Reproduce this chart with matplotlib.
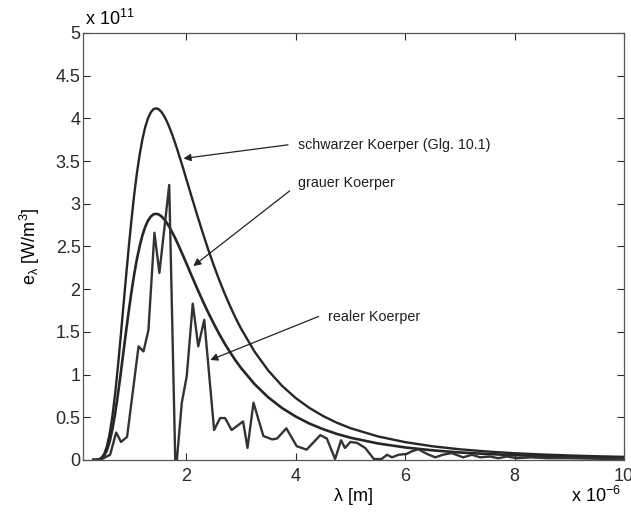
import matplotlib.pyplot as plt
from matplotlib.ticker import FuncFormatter, MultipleLocator

plt.rcParams['font.family'] = ['Liberation Sans', 'DejaVu Sans']
plt.rcParams['mathtext.fontset'] = 'custom'
plt.rcParams['mathtext.rm'] = 'Liberation Sans'
plt.rcParams['mathtext.it'] = 'Liberation Sans'

# wavelength in 1e-6 m, emissive power in 1e11 W/m^3
lam_smooth = [0.3, 0.35, 0.4, 0.45, 0.5, 0.55, 0.6, 0.65, 0.7, 0.75, 0.8, 0.85, 0.9, 0.95, 1.0,
              1.05, 1.1, 1.15, 1.2, 1.25, 1.3, 1.35, 1.4, 1.45, 1.5, 1.55, 1.6, 1.65, 1.7, 1.75,
              1.8, 1.85, 1.9, 1.95, 2.0,
              2.1, 2.2, 2.3, 2.4, 2.5, 2.6, 2.7, 2.8, 2.9, 3.0,
              3.25, 3.5, 3.75, 4.0, 4.25, 4.5, 4.75, 5.0,
              5.5, 6.0, 6.5, 7.0, 7.5, 8.0, 8.5, 9.0, 9.5, 10.0]
e_black = [0.0, 0.001, 0.006, 0.023, 0.068, 0.155, 0.30, 0.503, 0.766, 1.077, 1.42, 1.781, 2.139, 2.487, 2.81,
           3.105, 3.361, 3.575, 3.755, 3.895, 3.998, 4.067, 4.107, 4.117, 4.106, 4.073, 4.023, 3.960, 3.884, 3.800,
           3.707, 3.609, 3.506, 3.403, 3.295,
           3.08, 2.869, 2.664, 2.468, 2.285, 2.112, 1.952, 1.804, 1.666, 1.54,
           1.267, 1.046, 0.868, 0.725, 0.609, 0.514, 0.436, 0.372,
           0.2755, 0.208, 0.1593, 0.124, 0.098, 0.078, 0.0634, 0.052, 0.0427, 0.0355]
e_grey = [0.0, 0.001, 0.004, 0.016, 0.048, 0.109, 0.21, 0.352, 0.536, 0.754, 0.994, 1.247, 1.497, 1.741, 1.967,
          2.174, 2.353, 2.503, 2.629, 2.727, 2.799, 2.847, 2.875, 2.882, 2.874, 2.851, 2.816, 2.772, 2.719, 2.66,
          2.595, 2.526, 2.454, 2.382, 2.307,
          2.156, 2.008, 1.865, 1.728, 1.60, 1.478, 1.366, 1.263, 1.166, 1.078,
          0.887, 0.732, 0.608, 0.508, 0.426, 0.36, 0.305, 0.26,
          0.193, 0.146, 0.112, 0.087, 0.069, 0.055, 0.044, 0.036, 0.030, 0.025]

lam_real = [0.3, 0.43, 0.61, 0.72, 0.81, 0.92, 1.13, 1.22, 1.31, 1.42, 1.51, 1.69,
            1.80, 1.83, 1.92, 2.01, 2.12, 2.22, 2.33, 2.51, 2.62, 2.71, 2.83, 3.04,
            3.12, 3.23, 3.41, 3.57, 3.66, 3.83, 4.02, 4.20, 4.45, 4.57, 4.72, 4.83,
            4.90, 5.00, 5.12, 5.27, 5.43, 5.57, 5.67, 5.76, 5.88, 6.03, 6.12, 6.24,
            6.40, 6.55, 6.69, 6.85, 7.06, 7.22, 7.37, 7.55, 7.70, 7.86, 8.04, 8.3,
            8.6, 9.0, 9.4, 9.8, 10.0]
e_real = [0.0, 0.0, 0.06, 0.32, 0.21, 0.27, 1.33, 1.27, 1.52, 2.66, 2.19, 3.22,
          0.0, 0.0, 0.67, 0.98, 1.83, 1.33, 1.64, 0.35, 0.49, 0.49, 0.35, 0.45,
          0.14, 0.67, 0.28, 0.24, 0.25, 0.37, 0.16, 0.12, 0.29, 0.25, 0.01, 0.23,
          0.14, 0.21, 0.20, 0.14, 0.01, 0.01, 0.06, 0.03, 0.06, 0.07, 0.10, 0.125,
          0.07, 0.03, 0.06, 0.08, 0.03, 0.06, 0.03, 0.04, 0.02, 0.04, 0.02, 0.03,
          0.02, 0.02, 0.015, 0.01, 0.01]

labels = ['schwarzer Koerper (Glg. 10.1)', 'grauer Koerper', 'realer Koerper']
text_pos = [(4.05, 3.69), (4.05, 3.24), (4.6, 1.67)]
arrow_tail = [(3.86, 3.69), (3.89, 3.15), (4.42, 1.68)]
arrow_head = [(1.95, 3.53), (2.13, 2.27), (2.44, 1.17)]

line_col = '#262626'

fig = plt.figure(figsize=(6.31, 5.15), dpi=100)
ax = fig.add_axes([0.132, 0.107, 0.857, 0.829])

ax.plot(lam_smooth, e_black, color=line_col, lw=1.7)
ax.plot(lam_smooth, e_grey, color=line_col, lw=1.9)
ax.plot(lam_real, e_real, color='#333333', lw=1.7)

for lab, tp, tail, head in zip(labels, text_pos, arrow_tail, arrow_head):
    ax.text(tp[0], tp[1], lab, fontsize=10.3, va='center', ha='left', color='#1e1e1e')
    ax.annotate('', xy=head, xytext=tail,
                arrowprops=dict(arrowstyle='-|>', color='#222222', lw=0.9,
                                mutation_scale=11, shrinkA=0, shrinkB=0))

ax.set_xlim(0.12, 10)
ax.set_ylim(0, 5)
ax.xaxis.set_major_locator(MultipleLocator(2))
ax.yaxis.set_major_locator(MultipleLocator(0.5))
fmt = FuncFormatter(lambda v, p: '%g' % v)
ax.xaxis.set_major_formatter(fmt)
ax.yaxis.set_major_formatter(fmt)
ax.tick_params(direction='in', top=True, right=True, length=5, width=0.8,
               labelsize=13, colors='#2a2a2a')
ax.tick_params(axis='y', pad=2)
ax.tick_params(axis='x', pad=6)
for s in ax.spines.values():
    s.set_color('#555555')
    s.set_linewidth(0.9)

ax.set_xlabel('λ [m]', fontsize=13, labelpad=2)
ax.set_ylabel(r'e$_\lambda$ [W/m$^3$]', fontsize=13, labelpad=10)

fig.text(0.134, 0.944, r'x 10$^{11}$', fontsize=13, ha='left', va='bottom')
fig.text(0.905, 0.018, r'x 10$^{-6}$', fontsize=13, ha='left', va='bottom')

fig.savefig('out.png', dpi=100, facecolor='white')
